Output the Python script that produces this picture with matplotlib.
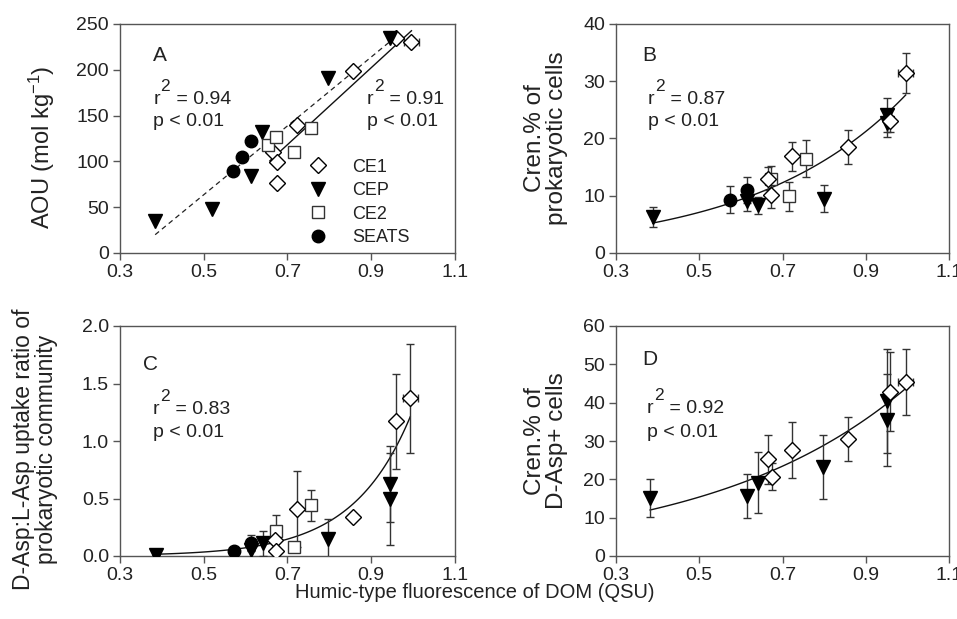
import numpy as np
import matplotlib
matplotlib.use("Agg")
import matplotlib.pyplot as plt
from matplotlib.lines import Line2D

plt.rcParams['font.family'] = ['Liberation Sans', 'DejaVu Sans']
plt.rcParams['mathtext.fontset'] = 'custom'
plt.rcParams['mathtext.rm'] = 'Liberation Sans'
plt.rcParams['mathtext.it'] = 'Liberation Sans'
plt.rcParams['mathtext.default'] = 'regular'

TXT = '#222222'
SPINE = '#555555'

# ---------------- data ----------------
x_ticks = [0.3, 0.5, 0.7, 0.9, 1.1]
xlabel = "Humic-type fluorescence of DOM (QSU)"

# Panel A (AOU)
a_ce1_x = [0.665, 0.675, 0.675, 0.722, 0.857, 0.960, 0.996]
a_ce1_y = [110, 99, 76, 140, 199, 235, 230]
a_ce1_xerr = [0, 0, 0, 0, 0, 0, 0.018]
a_cep_x = [0.384, 0.519, 0.614, 0.640, 0.797, 0.945]
a_cep_y = [35, 48, 84, 132, 191, 235]
a_ce2_x = [0.653, 0.672, 0.716, 0.756]
a_ce2_y = [118, 127, 110, 136]
a_seats_x = [0.570, 0.592, 0.613]
a_seats_y = [90, 105, 122]
a_fit_dashed = [376.0, -124.4]   # slope, intercept
a_fit_dashed_range = [0.384, 0.961]
a_fit_solid = [420.0, -175.7]
a_fit_solid_range = [0.658, 0.996]

# Panel B (Cren.% of prokaryotic cells)
b_ce1_x = [0.664, 0.673, 0.722, 0.858, 0.958, 0.996]
b_ce1_y = [13.0, 10.1, 16.9, 18.5, 23.1, 31.5]
b_ce1_yerr = [2.0, 2.3, 2.5, 2.9, 2.0, 3.5]
b_ce1_xerr = [0, 0, 0, 0, 0, 0.018]
b_cep_x = [0.388, 0.614, 0.642, 0.800, 0.950, 0.950]
b_cep_y = [6.3, 9.0, 8.3, 9.5, 24.1, 22.7]
b_cep_yerr = [1.7, 1.7, 1.5, 2.4, 3.0, 2.5]
b_ce2_x = [0.673, 0.716, 0.756]
b_ce2_y = [13.0, 9.9, 16.5]
b_ce2_yerr = [2.2, 2.5, 3.2]
b_seats_x = [0.574, 0.614]
b_seats_y = [9.3, 11.0]
b_seats_yerr = [2.4, 2.2]
b_fit = [1.809, 2.736]            # a * exp(b x)
b_fit_range = [0.388, 0.996]

# Panel C (D-Asp:L-Asp uptake ratio)
c_ce1_x = [0.670, 0.673, 0.722, 0.857, 0.959, 0.993]
c_ce1_y = [0.14, 0.04, 0.41, 0.34, 1.17, 1.37]
c_ce1_yerr = [0.0, 0.0, 0.33, 0.0, 0.41, 0.475]
c_ce1_xerr = [0, 0, 0, 0, 0, 0.018]
c_cep_x = [0.386, 0.612, 0.641, 0.797, 0.945, 0.945]
c_cep_y = [0.01, 0.05, 0.11, 0.15, 0.63, 0.50]
c_cep_yerr = [0.0, 0.0, 0.11, 0.17, 0.33, 0.40]
c_ce2_x = [0.673, 0.716, 0.756]
c_ce2_y = [0.22, 0.08, 0.44]
c_ce2_yerr = [0.14, 0.0, 0.135]
c_seats_x = [0.572, 0.612]
c_seats_y = [0.04, 0.11]
c_seats_yerr = [0.02, 0.07]
c_fit = [0.00095, 7.2]
c_fit_range = [0.384, 0.993]

# Panel D (Cren.% of D-Asp+ cells)
d_ce1_x = [0.666, 0.674, 0.722, 0.858, 0.958, 0.996]
d_ce1_y = [25.2, 20.7, 27.6, 30.6, 42.8, 45.4]
d_ce1_yerr = [6.3, 3.5, 7.3, 5.7, 10.3, 8.5]
d_ce1_xerr = [0, 0, 0, 0, 0, 0.018]
d_cep_x = [0.382, 0.614, 0.640, 0.798, 0.950, 0.950]
d_cep_y = [15.2, 15.6, 19.1, 23.3, 40.5, 35.5]
d_cep_yerr = [5.0, 5.7, 8.0, 8.3, 13.5, 12.0]
d_fit = [5.37, 2.105]
d_fit_range = [0.382, 0.996]

series_labels = ["CE1", "CEP", "CE2", "SEATS"]

# ---------------- styles ----------------
STY = {
    "CE1": dict(marker='D', ms=8, mfc='white', mec='black', mew=1.0),
    "CEP": dict(marker='v', ms=10, mfc='black', mec='black', mew=1.0),
    "CE2": dict(marker='s', ms=9, mfc='white', mec='#333333', mew=1.0),
    "SEATS": dict(marker='o', ms=9, mfc='black', mec='black', mew=1.0),
}


def series(ax, name, x, y, yerr=None, xerr=None):
    st = STY[name]
    ax.errorbar(x, y, yerr=yerr, xerr=xerr, linestyle='none',
                ecolor='#333333', elinewidth=1.0, capsize=3.0, capthick=1.0,
                zorder=3, **st)


fig = plt.figure(figsize=(9.57, 6.19), dpi=100)
W, H = 957.0, 619.0


def make_ax(l, t, r, b):
    return fig.add_axes([l / W, 1 - b / H, (r - l) / W, (b - t) / H])


axA = make_ax(120, 24, 455, 253)
axB = make_ax(616, 24, 949, 253)
axC = make_ax(120, 326, 455, 556)
axD = make_ax(616, 326, 949, 556)


def style(ax, ylim, yticks, yfmt):
    ax.set_xlim(x_ticks[0], x_ticks[-1])
    ax.set_ylim(*ylim)
    ax.set_xticks(x_ticks)
    ax.set_xticklabels([f"{v:.1f}" for v in x_ticks])
    ax.set_yticks(yticks)
    ax.set_yticklabels([yfmt.format(v) for v in yticks])
    for s in ax.spines.values():
        s.set_color(SPINE)
        s.set_linewidth(1.0)
    ax.tick_params(direction='out', length=5, width=1, color=SPINE,
                   labelsize=14, labelcolor=TXT, pad=3,
                   top=False, right=False)


def rtext(ax, x, y_r, y_p, r2):
    fs = 14
    t1 = ax.text(x, y_r, "r", transform=ax.transAxes, fontsize=fs,
                 color=TXT, va='bottom', ha='left')
    t2 = ax.annotate("2", xy=(1, 0), xycoords=t1, xytext=(0.3, 9.5),
                     textcoords='offset points', fontsize=fs - 1.5,
                     color=TXT, va='bottom', ha='left')
    ax.annotate(" = " + r2, xy=(1, 0), xycoords=t2, xytext=(0.3, -9.5),
                textcoords='offset points', fontsize=fs, color=TXT,
                va='bottom', ha='left')
    ax.text(x, y_p, "p < 0.01", transform=ax.transAxes, fontsize=fs,
            color=TXT, va='baseline', ha='left')


def panel_letter(ax, x, y, s):
    ax.text(x, y, s, transform=ax.transAxes, fontsize=15, color=TXT,
            va='top', ha='left')


# ---- Panel A ----
xs = np.linspace(*a_fit_dashed_range, 50)
axA.plot(xs, a_fit_dashed[0] * xs + a_fit_dashed[1], color='#222222',
         lw=0.9, ls=(0, (4, 3)), zorder=2)
xs = np.linspace(*a_fit_solid_range, 50)
axA.plot(xs, a_fit_solid[0] * xs + a_fit_solid[1], color='#111111',
         lw=1.0, zorder=2)
series(axA, "CE1", a_ce1_x, a_ce1_y, xerr=a_ce1_xerr)
series(axA, "CEP", a_cep_x, a_cep_y)
series(axA, "CE2", a_ce2_x, a_ce2_y)
series(axA, "SEATS", a_seats_x, a_seats_y)
style(axA, (0, 250), [0, 50, 100, 150, 200, 250], "{:.0f}")
panel_letter(axA, 0.098, 0.905, "A")
rtext(axA, 0.10, 0.635, 0.555, "0.94")
rtext(axA, 0.737, 0.635, 0.555, "0.91")
handles = [Line2D([], [], linestyle='none', **STY[n]) for n in series_labels]
leg = axA.legend(handles, series_labels, loc='lower left',
                 bbox_to_anchor=(0.559, 0.03),
                 frameon=False, fontsize=13, handlelength=1.2,
                 handletextpad=1.3, labelspacing=0.36, borderpad=0,
                 borderaxespad=0)
for t in leg.get_texts():
    t.set_color(TXT)
axA.set_ylabel("AOU (mol kg$^{-1}$)", fontsize=17, color=TXT)
axA.yaxis.set_label_coords(-0.188, 0.46)

# ---- Panel B ----
xs = np.linspace(*b_fit_range, 100)
axB.plot(xs, b_fit[0] * np.exp(b_fit[1] * xs), color='#111111', lw=1.0, zorder=2)
series(axB, "CEP", b_cep_x, b_cep_y, yerr=b_cep_yerr)
series(axB, "SEATS", b_seats_x, b_seats_y, yerr=b_seats_yerr)
series(axB, "CE2", b_ce2_x, b_ce2_y, yerr=b_ce2_yerr)
series(axB, "CE1", b_ce1_x, b_ce1_y, yerr=b_ce1_yerr, xerr=b_ce1_xerr)
style(axB, (0, 40), [0, 10, 20, 30, 40], "{:.0f}")
panel_letter(axB, 0.078, 0.905, "B")
rtext(axB, 0.096, 0.635, 0.555, "0.87")
axB.set_ylabel("Cren.% of\nprokaryotic cells", fontsize=17.5, color=TXT,
               linespacing=1.0)
axB.yaxis.set_label_coords(-0.144, 0.5)

# ---- Panel C ----
xs = np.linspace(*c_fit_range, 100)
axC.plot(xs, c_fit[0] * np.exp(c_fit[1] * xs), color='#111111', lw=1.0, zorder=2)
series(axC, "CEP", c_cep_x, c_cep_y, yerr=c_cep_yerr)
series(axC, "SEATS", c_seats_x, c_seats_y, yerr=c_seats_yerr)
series(axC, "CE2", c_ce2_x, c_ce2_y, yerr=c_ce2_yerr)
series(axC, "CE1", c_ce1_x, c_ce1_y, yerr=c_ce1_yerr, xerr=c_ce1_xerr)
style(axC, (0, 2.0), [0.0, 0.5, 1.0, 1.5, 2.0], "{:.1f}")
panel_letter(axC, 0.069, 0.875, "C")
rtext(axC, 0.098, 0.602, 0.517, "0.83")
axC.set_ylabel("D-Asp:L-Asp uptake ratio of\nprokaryotic community",
               fontsize=16.5, color=TXT, linespacing=1.0)
axC.yaxis.set_label_coords(-0.185, 0.465)

# ---- Panel D ----
xs = np.linspace(*d_fit_range, 100)
axD.plot(xs, d_fit[0] * np.exp(d_fit[1] * xs), color='#111111', lw=1.0, zorder=2)
series(axD, "CEP", d_cep_x, d_cep_y, yerr=d_cep_yerr)
series(axD, "CE1", d_ce1_x, d_ce1_y, yerr=d_ce1_yerr, xerr=d_ce1_xerr)
style(axD, (0, 60), [0, 10, 20, 30, 40, 50, 60], "{:.0f}")
panel_letter(axD, 0.078, 0.897, "D")
rtext(axD, 0.093, 0.606, 0.517, "0.92")
axD.set_ylabel("Cren.% of\nD-Asp+ cells", fontsize=17.5, color=TXT,
               linespacing=1.0)
axD.yaxis.set_label_coords(-0.144, 0.5)

fig.text(0.496, 1 - 593 / H, xlabel, fontsize=14.5, color=TXT,
         ha='center', va='center')

fig.savefig("out.png", dpi=100)
